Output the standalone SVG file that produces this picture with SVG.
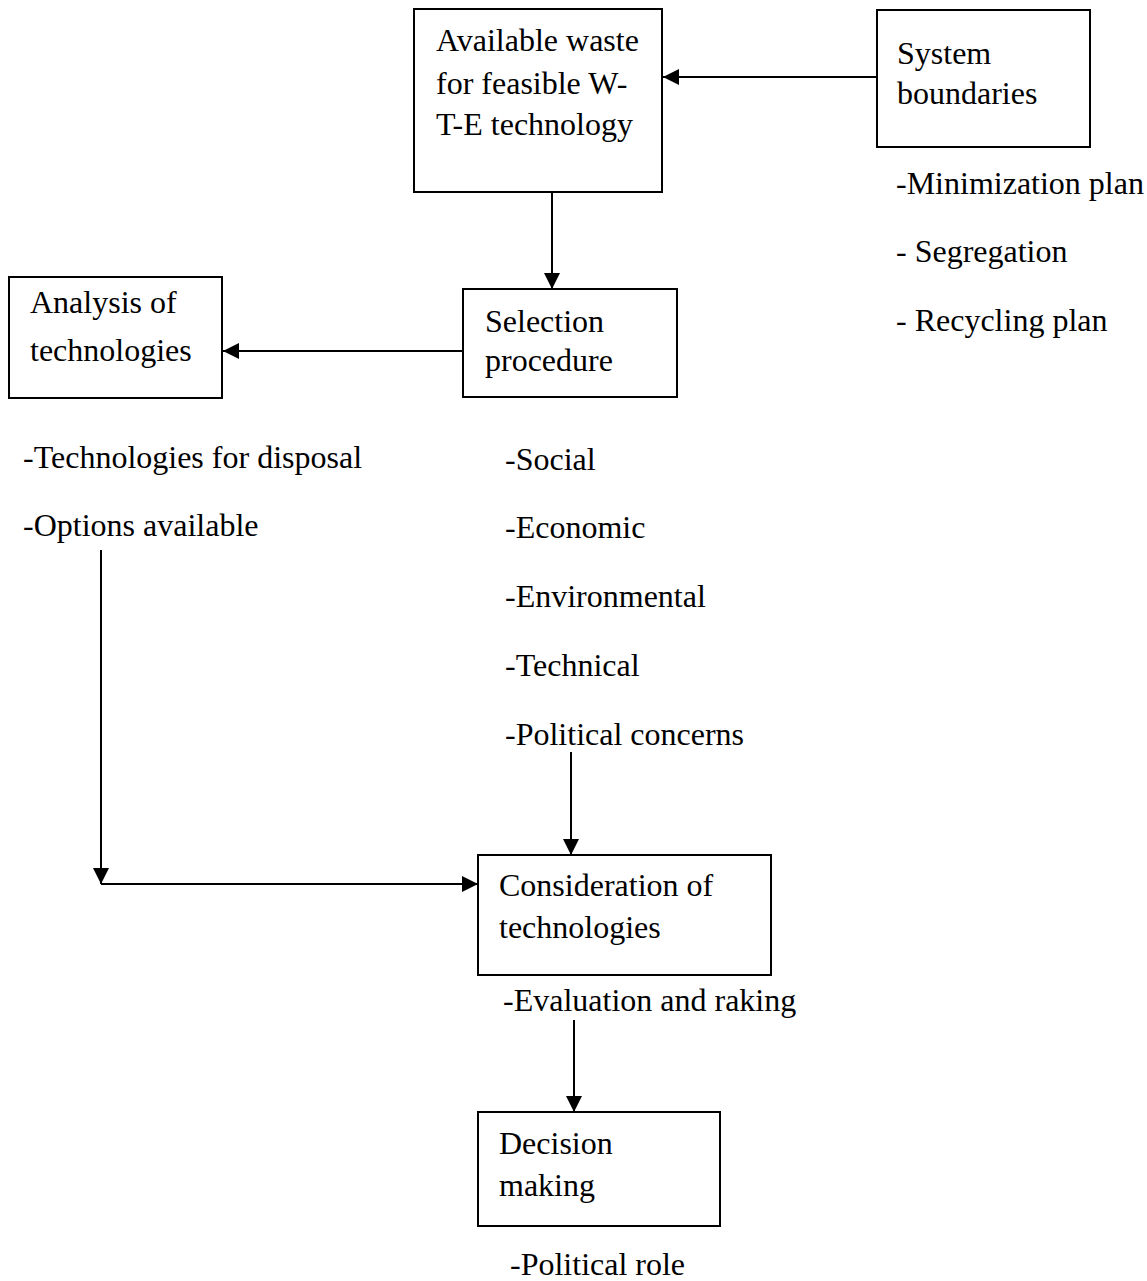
<svg xmlns="http://www.w3.org/2000/svg" width="1147" height="1281" viewBox="0 0 1147 1281">
<style>
  .box { fill: #ffffff; stroke: #000000; stroke-width: 2; }
  .t { font-family: "Liberation Serif", "Times New Roman", serif; font-size: 32px; fill: #000000; }
  .c { fill: none; stroke: #000000; stroke-width: 2; }
</style>
<defs>
  <marker id="ah" markerUnits="userSpaceOnUse" markerWidth="16" markerHeight="16" refX="16" refY="8" orient="auto">
    <path d="M0,0 L16,8 L0,16 Z" fill="#000000"/>
  </marker>
</defs>
<rect width="1147" height="1281" fill="#ffffff"/>
<g id="connectors">
  <line class="c" x1="877" y1="77" x2="663" y2="77" marker-end="url(#ah)"/>
  <line class="c" x1="552" y1="192" x2="552" y2="289" marker-end="url(#ah)"/>
  <line class="c" x1="463" y1="351" x2="223" y2="351" marker-end="url(#ah)"/>
  <line class="c" x1="101" y1="550" x2="101" y2="884" marker-end="url(#ah)"/>
  <line class="c" x1="101" y1="884" x2="478" y2="884" marker-end="url(#ah)"/>
  <line class="c" x1="571" y1="752" x2="571" y2="855" marker-end="url(#ah)"/>
  <line class="c" x1="574" y1="1020" x2="574" y2="1112" marker-end="url(#ah)"/>
</g>
<g id="node-waste">
  <rect class="box" x="414" y="9" width="248" height="183"/>
  <text class="t" x="436" y="51">Available waste</text>
  <text class="t" x="436" y="94">for feasible W-</text>
  <text class="t" x="436" y="135">T-E technology</text>
</g>
<g id="node-system">
  <rect class="box" x="877" y="10" width="213" height="137"/>
  <text class="t" x="897" y="64">System</text>
  <text class="t" x="897" y="104">boundaries</text>
</g>
<g id="list-system">
  <text class="t" x="896" y="194">-Minimization plan</text>
  <text class="t" x="896" y="262">- Segregation</text>
  <text class="t" x="896" y="331">- Recycling plan</text>
</g>
<g id="node-analysis">
  <rect class="box" x="9" y="277" width="213" height="121"/>
  <text class="t" x="30" y="313">Analysis of</text>
  <text class="t" x="30" y="361">technologies</text>
</g>
<g id="node-selection">
  <rect class="box" x="463" y="289" width="214" height="108"/>
  <text class="t" x="485" y="332">Selection</text>
  <text class="t" x="485" y="371">procedure</text>
</g>
<g id="list-analysis">
  <text class="t" x="23" y="468">-Technologies for disposal</text>
  <text class="t" x="23" y="536">-Options available</text>
</g>
<g id="list-selection">
  <text class="t" x="505" y="470">-Social</text>
  <text class="t" x="505" y="538">-Economic</text>
  <text class="t" x="505" y="607">-Environmental</text>
  <text class="t" x="505" y="676">-Technical</text>
  <text class="t" x="505" y="745">-Political concerns</text>
</g>
<g id="node-consideration">
  <rect class="box" x="478" y="855" width="293" height="120"/>
  <text class="t" x="499" y="896">Consideration of</text>
  <text class="t" x="499" y="938">technologies</text>
  <text class="t" x="503" y="1011">-Evaluation and raking</text>
</g>
<g id="node-decision">
  <rect class="box" x="478" y="1112" width="242" height="114"/>
  <text class="t" x="499" y="1154">Decision</text>
  <text class="t" x="499" y="1196">making</text>
  <text class="t" x="510" y="1275">-Political role</text>
</g>
</svg>
